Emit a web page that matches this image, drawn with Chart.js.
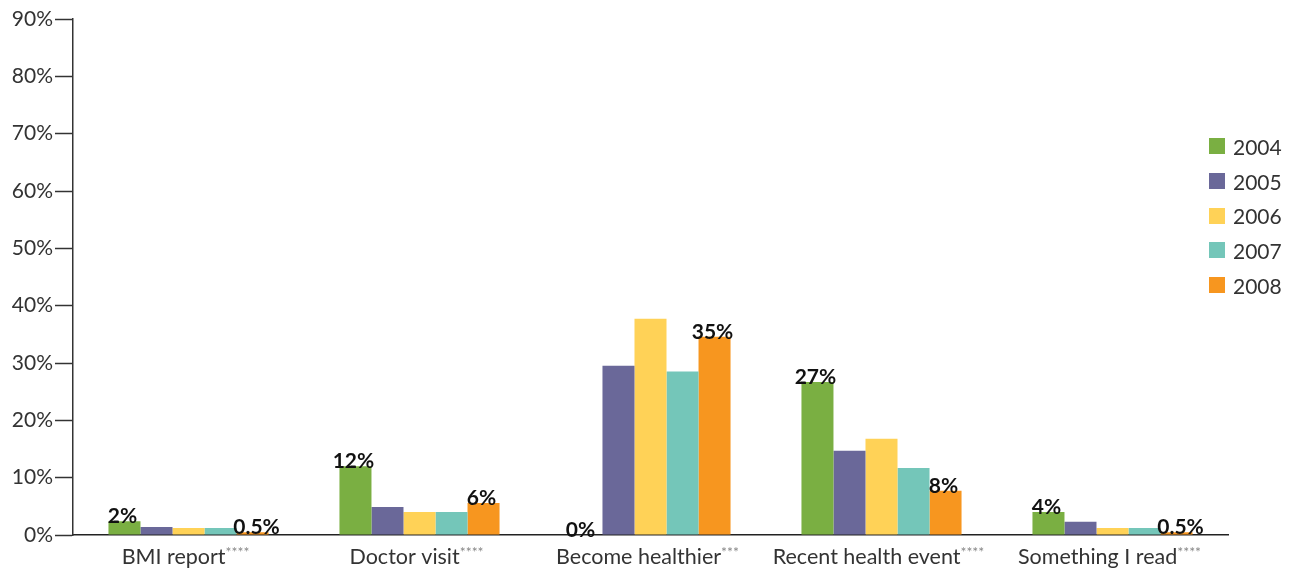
<html>
<head>
    <title>Reasons</title>
    <style>
        html, body { margin: 0; padding: 0; background: #fff; }
        #wrap { position: relative; width: 1294px; height: 571px; }
        #legend { position: absolute; left: 1209px; top: 129px; font-family: Lato, sans-serif; font-size: 21px; color: #333; }
        #legend div { height: 34.7px; display: flex; align-items: center; }
        #legend span.box { display: inline-block; width: 16px; height: 16px; margin-right: 8px; }
    </style>
</head>
<body>
    <div id="wrap">
        <canvas id="chart" width="1294" height="571"></canvas>
        <div id="legend"></div>
    </div>

    <script src="https://cdn.jsdelivr.net/npm/chart.js@4"></script>
    <script>
        // categories + little significance stars after each label
        const categories = ['BMI report', 'Doctor visit', 'Become healthier', 'Recent health event', 'Something I read']
        const stars = ['****', '****', '***', '****', '****']
        const years = ['2004', '2005', '2006', '2007', '2008']
        const colors = ['#7AAF42', '#6A6899', '#FFD257', '#74C6B9', '#F7961F']

        const v2004 = [2.4, 12, 0, 26.7, 4.0]
        const v2005 = [1.4, 4.9, 29.5, 14.7, 2.3]
        const v2006 = [1.2, 4.0, 37.7, 16.8, 1.2]
        const v2007 = [1.2, 4.0, 28.5, 11.7, 1.2]
        const v2008 = [0.5, 5.6, 34.6, 7.7, 0.5]

        // value labels printed over the first and last year
        const labels2004 = ['2%', '12%', '0%', '27%', '4%']
        const labels2008 = ['0.5%', '6%', '35%', '8%', '0.5%']

        const yTicks = [0, 10, 20, 30, 40, 50, 60, 70, 80, 90]

        const series = [v2004, v2005, v2006, v2007, v2008]
        const barLabels = [labels2004, null, null, null, labels2008]

        var legend = document.getElementById('legend')
        years.forEach((y, i) => {
            legend.innerHTML += '<div><span class="box" style="background:' + colors[i] + '"></span>' + y + '</div>'
        })

        const valueLabels = {
            id: 'valueLabels',
            afterDatasetsDraw(chart) {
                const ctx = chart.ctx
                ctx.save()
                ctx.font = 'bold 21px Lato, sans-serif'
                ctx.fillStyle = '#111'
                ctx.textAlign = 'center'
                ctx.textBaseline = 'alphabetic'
                barLabels.forEach((lbls, d) => {
                    if (!lbls) return
                    const meta = chart.getDatasetMeta(d)
                    meta.data.forEach((bar, i) => {
                        let x = bar.x - 2
                        if (lbls[i].length > 3) x += 6
                        if (lbls[i] == '0%') x -= 4
                        ctx.fillText(lbls[i], x, bar.y + 2)
                    })
                })
                ctx.restore()
            }
        }

        const catLabels = {
            id: 'catLabels',
            afterDraw(chart) {
                const ctx = chart.ctx
                const xs = chart.scales.x
                ctx.save()
                ctx.textBaseline = 'alphabetic'
                ctx.textAlign = 'left'
                categories.forEach((c, i) => {
                    ctx.font = '21.5px Lato, sans-serif'
                    const w1 = ctx.measureText(c).width
                    ctx.font = '14px Lato, sans-serif'
                    const w2 = ctx.measureText(stars[i]).width
                    const x0 = xs.getPixelForValue(i) - (w1 + w2) / 2 - 3
                    ctx.font = '21.5px Lato, sans-serif'
                    ctx.fillStyle = '#333'
                    ctx.fillText(c, x0, 564)
                    ctx.font = '14px Lato, sans-serif'
                    ctx.fillStyle = '#888'
                    ctx.fillText(stars[i], x0 + w1, 557)
                })
                ctx.restore()
            }
        }

        var my_chart = new Chart(document.getElementById('chart').getContext('2d'), {
            type: 'bar',
            data: {
                labels: categories,
                datasets: series.map((s, i) => ({
                    label: years[i],
                    data: s,
                    backgroundColor: colors[i],
                    borderWidth: 0,
                    barPercentage: 1.0,
                    categoryPercentage: 0.693,
                }))
            },
            options: {
                responsive: false,
                animation: false,
                devicePixelRatio: 1,
                layout: { padding: { top: 19, right: 66, left: 0, bottom: 0 } },
                plugins: {
                    legend: { display: false },
                    tooltip: { enabled: false },
                },
                scales: {
                    x: {
                        grid: { display: false, drawTicks: false },
                        border: { display: true, color: '#222', width: 1.5 },
                        ticks: { display: true, color: 'rgba(0,0,0,0)', font: { size: 20 } },
                        afterFit(scale) { scale.height = 36 }
                    },
                    y: {
                        min: 0,
                        max: 90,
                        afterBuildTicks(scale) { scale.ticks = yTicks.map(v => ({ value: v })) },
                        grid: { drawOnChartArea: false, drawTicks: true, tickLength: 18, tickColor: '#333', tickWidth: 1.5 },
                        border: { display: true, color: '#333', width: 1.5 },
                        ticks: {
                            padding: 2,
                            color: '#333',
                            font: { family: 'Lato, sans-serif', size: 21 },
                            callback: v => v + '%'
                        },
                        afterFit(scale) { scale.width = 73 }
                    }
                }
            },
            plugins: [valueLabels, catLabels]
        })
    </script>
</body>
</html>
